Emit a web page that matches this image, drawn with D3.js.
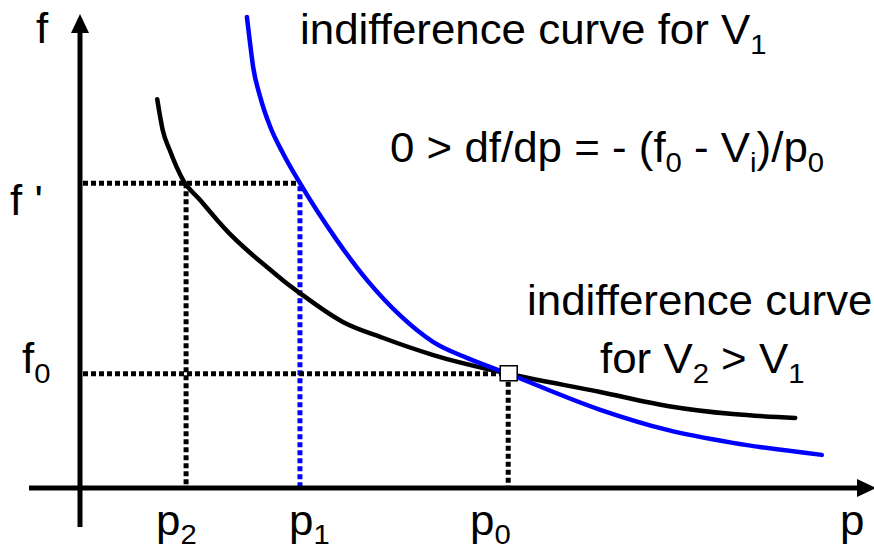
<!DOCTYPE html>
<html>
<head>
<meta charset="utf-8">
<script src="https://cdn.jsdelivr.net/npm/d3@7"></script>
<style>
  body { margin: 0; background: #fff; }
  text { font-family: "Liberation Sans", Arial, sans-serif; fill: #000; }
</style>
</head>
<body>
<svg id="chart" width="874" height="546"></svg>
<script>
// indifference curve for V1 (blue)
var blueP = [2.14, 2.18, 2.22, 2.31, 2.44, 2.60, 2.82, 3.29, 3.68, 4.10, 4.53, 4.96, 5.49, 6.67, 7.53, 8.37, 9.51];
var blueF = [9.81, 9.27, 8.77, 8.15, 7.52, 6.98, 6.35, 5.17, 4.33, 3.60, 3.04, 2.71, 2.38, 1.63, 1.21, 0.94, 0.69];
// indifference curve for V2 > V1 (black)
var blackP = [0.99, 1.06, 1.15, 1.32, 1.54, 1.76, 1.96, 2.18, 2.40, 2.60, 2.82, 3.37, 3.88, 4.53, 5.49, 6.67, 7.53, 8.37, 9.17];
var blackF = [8.10, 7.46, 7.04, 6.42, 6.00, 5.58, 5.23, 4.90, 4.60, 4.33, 4.06, 3.46, 3.13, 2.77, 2.38, 2.00, 1.71, 1.54, 1.46];

// marked prices and fees
var p2 = 1.36, p1 = 2.82, p0 = 5.49;
var fPrime = 6.35, f0 = 2.38;

var svg = d3.select("#chart");
var x = d3.scaleLinear().domain([0, 10]).range([80, 860]);
var y = d3.scaleLinear().domain([0, 10]).range([488, 8]);

var line = d3.line()
  .x(function (d) { return x(d[0]); })
  .y(function (d) { return y(d[1]); })
  .curve(d3.curveMonotoneX);

// dotted guide lines
var dots = svg.append("g").attr("stroke-width", 5).attr("stroke-dasharray", "5,3").attr("fill", "none");
dots.append("line").attr("x1", x(0) + 3).attr("x2", x(p1)).attr("y1", y(fPrime)).attr("y2", y(fPrime)).attr("stroke", "#000");
dots.append("line").attr("x1", x(p2)).attr("x2", x(p2)).attr("y1", y(fPrime)).attr("y2", y(0)).attr("stroke", "#000");
dots.append("line").attr("x1", x(p1)).attr("x2", x(p1)).attr("y1", y(fPrime) + 3).attr("y2", y(0)).attr("stroke", "#0000ff");
dots.append("line").attr("x1", x(0) + 3).attr("x2", x(p0)).attr("y1", y(f0)).attr("y2", y(f0)).attr("stroke", "#000");
dots.append("line").attr("x1", x(p0)).attr("x2", x(p0)).attr("y1", y(f0)).attr("y2", y(0)).attr("stroke", "#000");

// axes with arrow heads
var ax = svg.append("g");
ax.append("line").attr("x1", x(0)).attr("x2", x(0)).attr("y1", 527).attr("y2", 30)
  .attr("stroke", "#000").attr("stroke-width", 5);
ax.append("path").attr("d", "M" + x(0) + ",14L" + (x(0) - 9) + ",33L" + (x(0) + 9) + ",33Z").attr("fill", "#000");
ax.append("line").attr("x1", 29).attr("x2", 860).attr("y1", y(0)).attr("y2", y(0))
  .attr("stroke", "#000").attr("stroke-width", 5);
ax.append("path").attr("d", "M876," + y(0) + "L857," + (y(0) - 9) + "L857," + (y(0) + 9) + "Z").attr("fill", "#000");

// curves
svg.append("path").datum(d3.zip(blackP, blackF)).attr("d", line)
  .attr("fill", "none").attr("stroke", "#000").attr("stroke-width", 4.5).attr("stroke-linecap", "round");
svg.append("path").datum(d3.zip(blueP, blueF)).attr("d", line)
  .attr("fill", "none").attr("stroke", "#0000ff").attr("stroke-width", 4.5).attr("stroke-linecap", "round");

// tangency point
svg.append("rect").attr("x", x(p0) - 8).attr("y", y(f0) - 8).attr("width", 17).attr("height", 15)
  .attr("fill", "#fff").attr("stroke", "#000").attr("stroke-width", 1.5);

// labels: [x, y, parts, subscript drop] where a part is [text, isSub]
var labels = [
  [36, 43, [["f", 0]], 10],
  [10, 215, [["f '", 0]], 10],
  [22, 373, [["f", 0], ["0", 1]], 10],
  [156, 535, [["p", 0], ["2", 1]], 9],
  [289, 535, [["p", 0], ["1", 1]], 9],
  [470, 535, [["p", 0], ["0", 1]], 9],
  [840, 535, [["p", 0]], 9],
  [300, 44, [["indifference curve for V", 0], ["1", 1]], 10],
  [390, 162, [["0 > df/dp = - (f", 0], ["0", 1], [" - V", 0], ["i", 1], [")/p", 0], ["0", 1]], 10],
  [527, 315, [["indifference curve", 0]], 10],
  [600, 373, [["for V", 0], ["2", 1], [" > V", 0], ["1", 1]], 10]
];

labels.forEach(function (l) {
  var t = svg.append("text")
    .attr("transform", "translate(" + l[0] + "," + l[1] + ") scale(1.045,1)")
    .attr("font-size", 42);
  var shift = 0;
  l[2].forEach(function (part) {
    var dy = part[1] ? l[3] - shift : -shift;
    shift += dy;
    t.append("tspan").text(part[0]).attr("dy", dy).attr("font-size", part[1] ? 28 : 42);
  });
});
</script>
</body>
</html>
